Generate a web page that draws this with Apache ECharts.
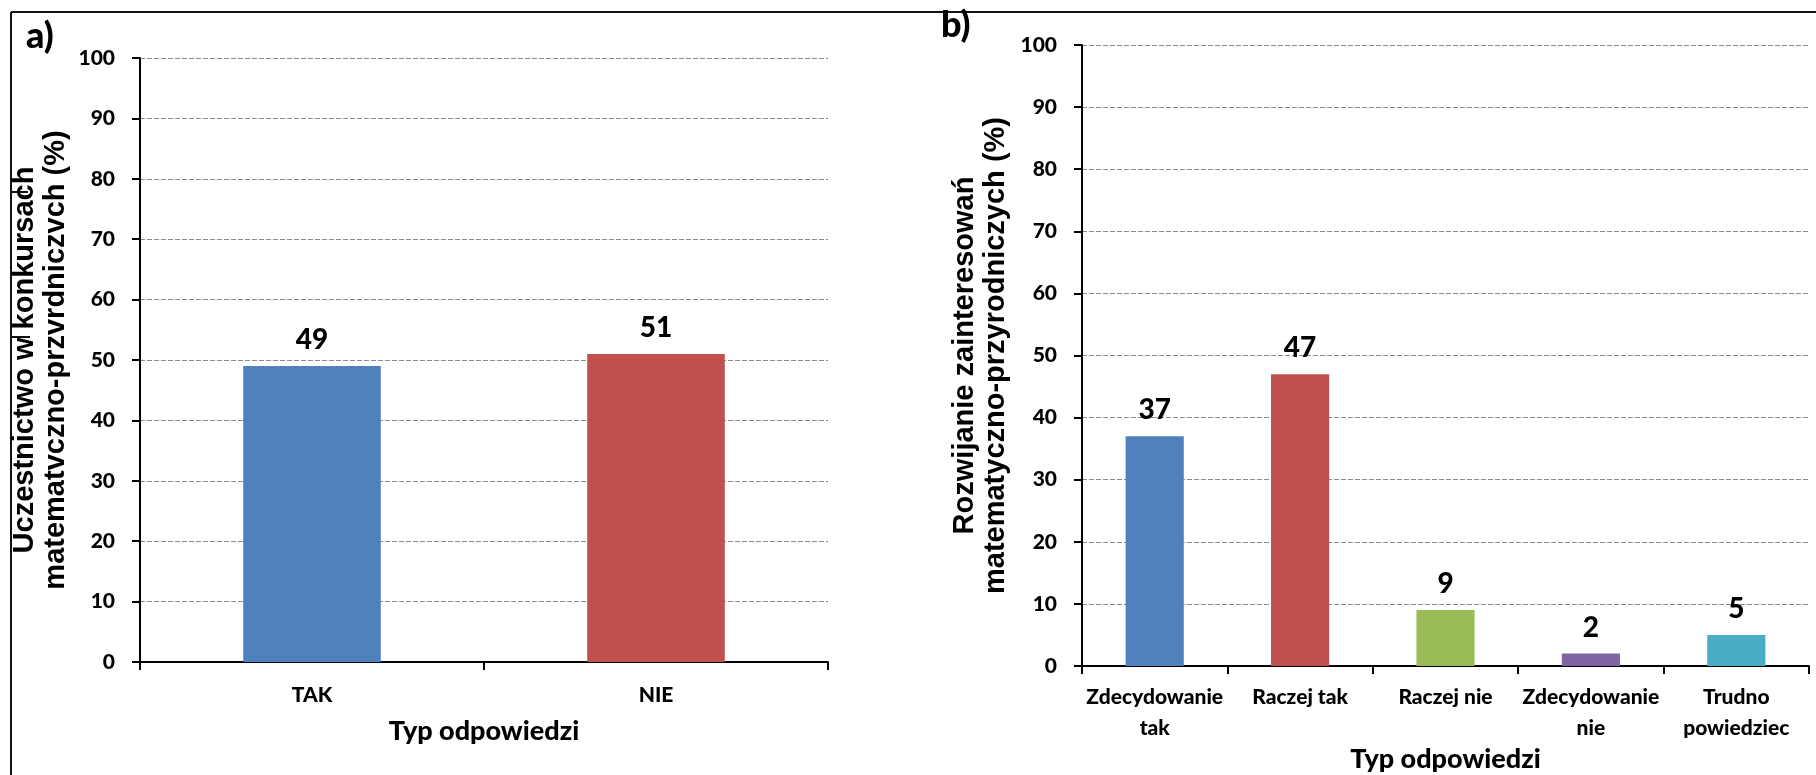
<!DOCTYPE html>
<html>
<head>
<meta charset="utf-8">
<script src="https://cdn.jsdelivr.net/npm/echarts@6/dist/echarts.min.js"></script>
<style>
  html, body { margin: 0; padding: 0; background: #ffffff; }
  #chart { width: 1816px; height: 775px; }
</style>
</head>
<body>
<div id="chart"></div>
<script>
// Panel a: participation in competitions
const categoriesA = ['TAK', 'NIE'];
const valuesA = [49, 51];
const colorsA = ['#4F81BD', '#C0504D'];

// Panel b: developing interests
const categoriesB = ['Zdecydowanie\ntak', 'Raczej tak', 'Raczej nie', 'Zdecydowanie\nnie', 'Trudno\npowiedziec'];
const valuesB = [37, 47, 9, 2, 5];
const colorsB = ['#4F81BD', '#C0504D', '#9BBB59', '#8064A2', '#4BACC6'];

// Shared value scale (percent)
const yMin = 0;
const yMax = 100;
const yStep = 10;

const yTitleA = 'Uczestnictwo w konkursach\nmatematvczno-przvrdniczvch (%)';
const yTitleB = 'Rozwijanie zainteresowań\nmatematyczno-przyrodniczych (%)';
const xTitle = 'Typ odpowiedzi';
const panelTags = ['a)', 'b)'];

const FONT = 'Lato, "Open Sans", "Noto Sans", sans-serif';
const TITLE_FONT = '"Liberation Sans", Arial, sans-serif';
const HEAVY = 900;

function valueAxis(gridIndex, title, gap) {
  return {
    type: 'value',
    gridIndex: gridIndex,
    min: yMin, max: yMax, interval: yStep,
    name: title,
    nameLocation: 'middle',
    nameRotate: 90,
    nameGap: gap,
    nameMoveOverlap: false,
    nameTextStyle: { fontFamily: TITLE_FONT, fontWeight: 'bold', fontSize: 29, lineHeight: 31, color: '#000' },
    axisLine: { show: true, lineStyle: { color: '#000', width: 2 } },
    axisTick: { show: true, length: 8, lineStyle: { color: '#000', width: 2 } },
    axisLabel: { show: true, margin: 25, fontFamily: FONT, fontWeight: HEAVY, fontSize: 21, color: '#000' },
    splitLine: { show: true, lineStyle: { color: '#8c8c8c', width: 1, type: [5, 2] } }
  };
}

function categoryAxis(gridIndex, cats, labelMargin, gap) {
  return {
    type: 'category',
    gridIndex: gridIndex,
    data: cats,
    name: xTitle,
    nameLocation: 'middle',
    nameGap: gap,
    nameMoveOverlap: false,
    nameTextStyle: { fontFamily: FONT, fontWeight: HEAVY, fontSize: 27, color: '#000', verticalAlign: 'top' },
    axisLine: { show: true, lineStyle: { color: '#000', width: 2 } },
    axisTick: { show: true, length: 8, alignWithLabel: false, lineStyle: { color: '#000', width: 2 } },
    axisLabel: { show: true, interval: 0, margin: labelMargin, fontFamily: FONT, fontWeight: HEAVY, fontSize: 21, lineHeight: 31, color: '#000' },
    splitLine: { show: false }
  };
}

function barSeries(axisIndex, values, colors) {
  return {
    type: 'bar',
    xAxisIndex: axisIndex,
    yAxisIndex: axisIndex,
    data: values,
    barWidth: '40%',
    itemStyle: { color: p => colors[p.dataIndex] },
    label: {
      show: true,
      position: 'top',
      distance: 12,
      fontFamily: FONT,
      fontWeight: HEAVY,
      fontSize: 28,
      color: '#000'
    },
    emphasis: { disabled: true },
    animation: false
  };
}

const chart = echarts.init(document.getElementById('chart'), null, { renderer: 'canvas' });

chart.setOption({
  backgroundColor: '#ffffff',
  animation: false,
  grid: [
    { left: 140, top: 58, width: 688, height: 604, containLabel: false, outerBoundsMode: 'none' },
    { left: 1082, top: 45, width: 727, height: 621, containLabel: false, outerBoundsMode: 'none' }
  ],
  xAxis: [
    categoryAxis(0, categoriesA, 18, 56),
    categoryAxis(1, categoriesB, 16, 80)
  ],
  yAxis: [
    valueAxis(0, yTitleA, 69),
    valueAxis(1, yTitleB, 71)
  ],
  series: [
    barSeries(0, valuesA, colorsA),
    barSeries(1, valuesB, colorsB)
  ],
  graphic: [
    // outer frame (top and left edges)
    { type: 'line', shape: { x1: 11, y1: 12, x2: 1816, y2: 12 }, style: { stroke: '#111', lineWidth: 2 } },
    { type: 'line', shape: { x1: 11, y1: 12, x2: 11, y2: 775 }, style: { stroke: '#111', lineWidth: 2 } },
    // small frame notches crossing the left axis title
    { type: 'line', shape: { x1: 11, y1: 192, x2: 28, y2: 192 }, style: { stroke: '#111', lineWidth: 2 } },
    { type: 'line', shape: { x1: 11, y1: 337, x2: 30, y2: 337 }, style: { stroke: '#111', lineWidth: 2 } },
    { type: 'text', left: 26, top: 18, style: { text: panelTags[0], font: HEAVY + ' 36px ' + FONT, fill: '#000' } },
    { type: 'text', left: 941, top: 7, style: { text: panelTags[1], font: HEAVY + ' 36px ' + FONT, fill: '#000' } }
  ]
});
</script>
</body>
</html>
